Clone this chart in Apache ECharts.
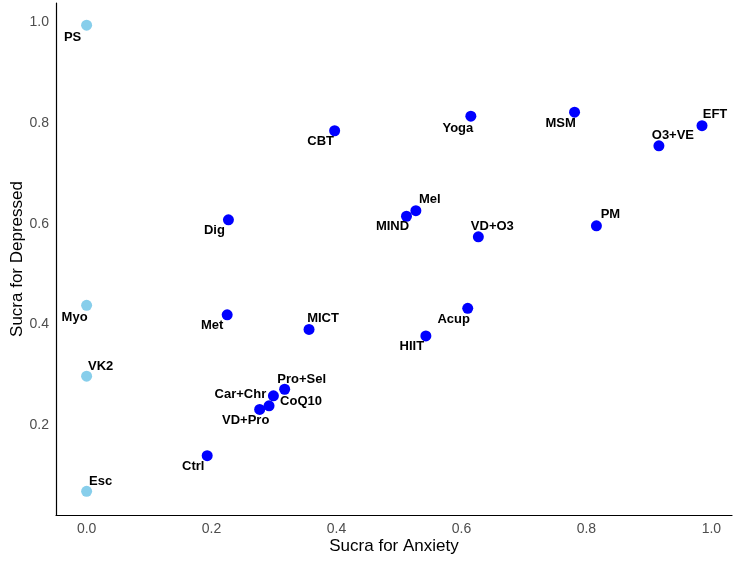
<!DOCTYPE html>
<html>
<head>
<meta charset="utf-8">
<script src="https://cdn.jsdelivr.net/npm/echarts@6/dist/echarts.min.js"></script>
<style>
    html, body { margin: 0; padding: 0; background: #fff; }
    #chart { width: 750px; height: 562px; }
</style>
</head>
<body>
<div id="chart"></div>
<script type="text/javascript">
// treatments
var names     = ['PS', 'Myo', 'VK2', 'Esc', 'Met', 'Dig', 'Ctrl', 'Pro+Sel', 'Car+Chr', 'CoQ10', 'VD+Pro',
                 'CBT', 'Yoga', 'Mel', 'MIND', 'VD+O3', 'MICT', 'Acup', 'HIIT', 'MSM', 'EFT', 'O3+VE', 'PM'];
var anxiety   = [0.000, 0.000, 0.000, 0.000, 0.225, 0.227, 0.193, 0.317, 0.299, 0.292, 0.277,
                 0.397, 0.615, 0.527, 0.512, 0.627, 0.356, 0.610, 0.543, 0.781, 0.985, 0.916, 0.816];
var depressed = [0.995, 0.438, 0.297, 0.068, 0.419, 0.608, 0.139, 0.271, 0.258, 0.238, 0.231,
                 0.785, 0.814, 0.626, 0.615, 0.574, 0.390, 0.432, 0.377, 0.822, 0.795, 0.755, 0.596];
// 1 = only depression outcome (light points)
var group     = [1, 1, 1, 1, 0, 0, 0, 0, 0, 0, 0,
                 0, 0, 0, 0, 0, 0, 0, 0, 0, 0, 0, 0];
var xTicks = [0, 0.2, 0.4, 0.6, 0.8, 1.0];
var yTicks = [0.2, 0.4, 0.6, 0.8, 1.0];

// where each repelled label sits relative to its dot (px)
var labelOffset = {
    'PS': [-14, 12], 'Myo': [-12, 12], 'VK2': [14, -10], 'Esc': [14, -10],
    'Met': [-15, 11], 'Dig': [-14, 11], 'Ctrl': [-14, 11], 'Pro+Sel': [17, -10],
    'Car+Chr': [-33, -1], 'CoQ10': [32, -4], 'VD+Pro': [-14, 11], 'CBT': [-14, 11],
    'Yoga': [-13, 12], 'Mel': [14, -11], 'MIND': [-14, 10], 'VD+O3': [14, -10],
    'MICT': [14, -11], 'Acup': [-14, 11], 'HIIT': [-14, 10], 'MSM': [-14, 11],
    'EFT': [13, -11], 'O3+VE': [14, -10], 'PM': [14, -11]
};

var font = 'Arial, "Liberation Sans", Helvetica, sans-serif';

function points(g) {
    var out = [];
    for (var i = 0; i < names.length; i++) {
        if (group[i] !== g) continue;
        out.push({
            name: names[i],
            value: [anxiety[i], depressed[i]],
            label: { offset: labelOffset[names[i]] || [0, 0] }
        });
    }
    return out;
}

var chart = echarts.init(document.getElementById('chart'));
var labelStyle = {
    show: true,
    position: 'inside',
    formatter: '{b}',
    color: '#000',
    fontFamily: font,
    fontWeight: 'bold',
    fontSize: 13
};

chart.setOption({
    animation: false,
    backgroundColor: '#fff',
    grid: { left: 56, right: 18, top: 3, bottom: 47, containLabel: false, outerBoundsMode: 'none' },
    xAxis: {
        type: 'value',
        min: -0.049,
        max: 1.033,
        name: 'Sucra for Anxiety',
        nameLocation: 'middle',
        nameGap: 23,
        nameMoveOverlap: false,
        nameTextStyle: { color: '#000', fontSize: 17, fontFamily: font },
        axisLine: { show: true, onZero: false, lineStyle: { color: '#000', width: 1.2 } },
        axisTick: { show: false },
        splitLine: { show: false },
        axisLabel: {
            customValues: xTicks,
            margin: 7,
            color: '#4d4d4d',
            fontSize: 14,
            fontFamily: font,
            formatter: function (v) { return v.toFixed(1); }
        }
    },
    yAxis: {
        type: 'value',
        min: 0.021,
        max: 1.039,
        name: 'Sucra for Depressed',
        nameLocation: 'middle',
        nameGap: 30,
        nameMoveOverlap: false,
        nameTextStyle: { color: '#000', fontSize: 17, fontFamily: font },
        axisLine: { show: true, onZero: false, lineStyle: { color: '#000', width: 1.2 } },
        axisTick: { show: false },
        splitLine: { show: false },
        axisLabel: {
            customValues: yTicks,
            margin: 7,
            color: '#4d4d4d',
            fontSize: 14,
            fontFamily: font,
            formatter: function (v) { return v.toFixed(1); }
        }
    },
    series: [
        {
            type: 'scatter',
            symbolSize: 11,
            itemStyle: { color: '#87CEEB', opacity: 1 },
            label: labelStyle,
            data: points(1)
        },
        {
            type: 'scatter',
            symbolSize: 11,
            itemStyle: { color: '#0000FF', opacity: 1 },
            label: labelStyle,
            data: points(0)
        }
    ]
});
</script>
</body>
</html>
